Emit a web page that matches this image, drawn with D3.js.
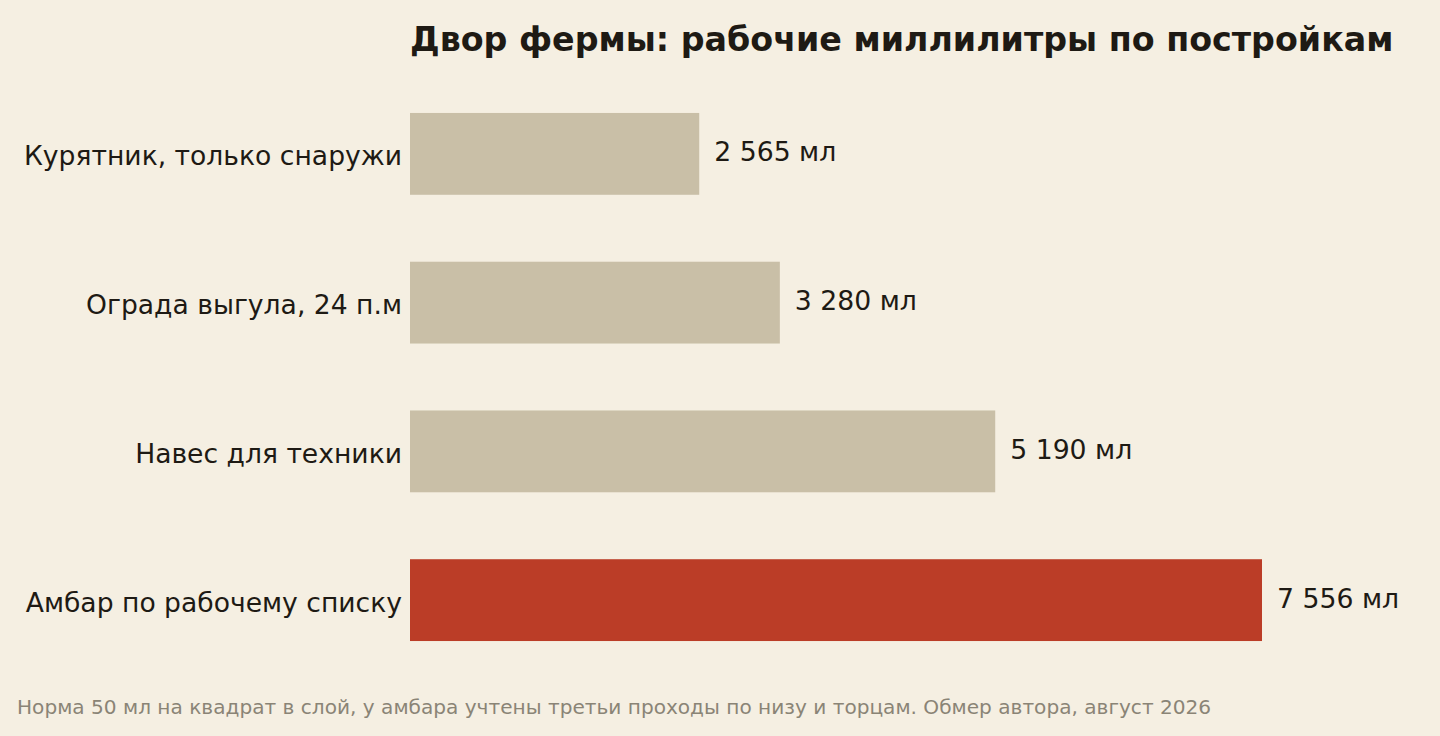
<!DOCTYPE html>
<html><head><meta charset="utf-8">
<script src="https://cdn.jsdelivr.net/npm/d3@7"></script>
<style>html,body{margin:0;padding:0;background:#f5efe2;}svg{display:block;}</style>
</head><body>
<svg id="c" width="1440" height="736"></svg>
<script>
const categories = ["Курятник, только снаружи","Ограда выгула, 24 п.м","Навес для техники","Амбар по рабочему списку"];
const values = [2565, 3280, 5190, 7556];
const highlight = [false, false, false, true];
const title = "Двор фермы: рабочие миллилитры по постройкам";
const note = "Норма 50 мл на квадрат в слой, у амбара учтены третьи проходы по низу и торцам. Обмер автора, август 2026";

const svg = d3.select("#c");
svg.append("rect").attr("width",1440).attr("height",736).attr("fill","#f5efe2");
const x = d3.scaleLinear().domain([0, 7556]).range([410, 1262]);
const y = d3.scaleBand().domain(categories).range([79.5, 674.5]).paddingInner(0.45).paddingOuter(0.225);
const font = "DejaVu Sans, sans-serif";
const fmt = v => d3.format(",")(v).replace(/,/g, "\u00a0") + " мл";

svg.append("text").attr("x",410).attr("y",51).attr("font-family",font).attr("font-weight","bold")
  .attr("font-size",33.3).attr("fill","#1e1a14").text(title);

const data = categories.map((c,i)=>({c, v: values[i], h: highlight[i]}));
svg.selectAll("rect.bar").data(data).join("rect").attr("class","bar")
  .attr("x", x(0)).attr("y", d=>y(d.c)).attr("width", d=>x(d.v)-x(0)).attr("height", y.bandwidth())
  .attr("fill", d=>d.h ? "#bb3d27" : "#c9bfa7");

svg.selectAll("text.val").data(data).join("text").attr("class","val")
  .attr("x", d=>x(d.v)+15).attr("y", d=>y(d.c)+y.bandwidth()/2-1).attr("dy","0.32em")
  .attr("font-family",font).attr("font-size",26.7).attr("fill","#1e1a14").text(d=>fmt(d.v));

svg.selectAll("text.cat").data(data).join("text").attr("class","cat")
  .attr("x", 402).attr("y", d=>y(d.c)+y.bandwidth()/2+3).attr("dy","0.32em").attr("text-anchor","end")
  .attr("font-family",font).attr("font-size",26.6).attr("fill","#1e1a14").text(d=>d.c);

svg.append("text").attr("x",17).attr("y",714).attr("font-family",font).attr("font-size",20.1)
  .attr("fill","#8a8476").text(note);
</script>
</body></html>
